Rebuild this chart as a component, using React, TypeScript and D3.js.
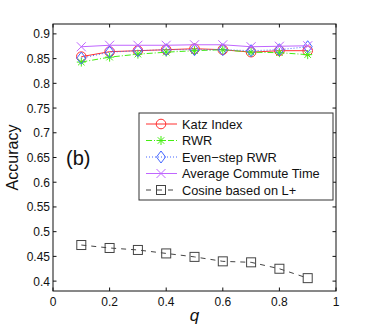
import React from "react";
import * as d3 from "d3";

const qValues = [0.1, 0.2, 0.3, 0.4, 0.5, 0.6, 0.7, 0.8, 0.9];
const katz = [0.854, 0.864, 0.866, 0.868, 0.870, 0.868, 0.863, 0.866, 0.866];
const rwr = [0.843, 0.853, 0.859, 0.863, 0.866, 0.868, 0.863, 0.862, 0.858];
const evenRwr = [0.851, 0.863, 0.866, 0.868, 0.868, 0.868, 0.866, 0.868, 0.874];
const act = [0.874, 0.877, 0.877, 0.877, 0.878, 0.878, 0.874, 0.875, 0.876];
const cosine = [0.473, 0.467, 0.463, 0.456, 0.449, 0.440, 0.438, 0.425, 0.406];
const xTicks = [0, 0.2, 0.4, 0.6, 0.8, 1];
const yTicks = [0.4, 0.45, 0.5, 0.55, 0.6, 0.65, 0.7, 0.75, 0.8, 0.85, 0.9];
const seriesNames = ["Katz Index", "RWR", "Even\u2212step RWR", "Average Commute Time", "Cosine based on L+"];

type Marker = "circle" | "star" | "diamond" | "x" | "square";
const seriesStyles: { color: string; dash: string; marker: Marker }[] = [
  { color: "#ff3030", dash: "", marker: "circle" },
  { color: "#44ee11", dash: "6,2,1,2", marker: "star" },
  { color: "#4466ff", dash: "1,2", marker: "diamond" },
  { color: "#c066ff", dash: "", marker: "x" },
  { color: "#444444", dash: "5,5", marker: "square" },
];

const W = 371, H = 329;
const left = 53, right = 336, top = 24, bottom = 291;

const x = d3.scaleLinear().domain([0, 1]).range([left, right]);
const y = d3.scaleLinear().domain([0.38, 0.92]).range([bottom, top]);

function MarkerShape({ type, cx, cy, color }: { type: Marker; cx: number; cy: number; color: string }) {
  const sw = 1;
  switch (type) {
    case "circle":
      return <circle cx={cx} cy={cy} r={4.8} fill="none" stroke={color} strokeWidth={sw} />;
    case "diamond":
      return (
        <path d={`M${cx},${cy - 6}L${cx + 4.5},${cy}L${cx},${cy + 6}L${cx - 4.5},${cy}Z`} fill="none" stroke={color} strokeWidth={sw} />
      );
    case "star": {
      const r = 4.5;
      const d = r * 0.72;
      return (
        <path
          d={`M${cx - r},${cy}L${cx + r},${cy}M${cx},${cy - r}L${cx},${cy + r}M${cx - d},${cy - d}L${cx + d},${cy + d}M${cx - d},${cy + d}L${cx + d},${cy - d}`}
          stroke={color}
          strokeWidth={sw}
          fill="none"
        />
      );
    }
    case "x": {
      const r = 4.5;
      return (
        <path d={`M${cx - r},${cy - r}L${cx + r},${cy + r}M${cx - r},${cy + r}L${cx + r},${cy - r}`} stroke={color} strokeWidth={sw} fill="none" />
      );
    }
    case "square":
      return <rect x={cx - 4.5} y={cy - 4.5} width={9} height={9} fill="none" stroke={color} strokeWidth={sw} />;
  }
}

export default function App() {
  const allSeries = [katz, rwr, evenRwr, act, cosine];
  const line = d3
    .line<number>()
    .x((_, i) => x(qValues[i]))
    .y((d) => y(d));
  const font = "'Liberation Sans', Arial, sans-serif";
  const tickLen = 3.5;

  const legX = 139, legY = 113, legW = 194, legH = 87;

  return (
    <svg width={W} height={H} style={{ position: "absolute", left: 0, top: 0 }} fontFamily={font}>
      <rect x={0} y={0} width={W} height={H} fill="#fff" />
      {allSeries.map((vals, si) => {
        const st = seriesStyles[si];
        return (
          <g key={si}>
            <path d={line(vals) || ""} fill="none" stroke={st.color} strokeWidth={1} strokeDasharray={st.dash || undefined} />
            {vals.map((v, i) => (
              <MarkerShape key={i} type={st.marker} cx={x(qValues[i])} cy={y(v)} color={st.color} />
            ))}
          </g>
        );
      })}
      <rect x={left} y={top} width={right - left} height={bottom - top} fill="none" stroke="#111" strokeWidth={1} />
      {xTicks.map((t) => (
        <g key={"x" + t}>
          <line x1={x(t)} x2={x(t)} y1={bottom} y2={bottom - tickLen} stroke="#111" />
          <line x1={x(t)} x2={x(t)} y1={top} y2={top + tickLen} stroke="#111" />
          <text x={x(t)} y={bottom + 15} fontSize={12} textAnchor="middle" fill="#111">
            {t}
          </text>
        </g>
      ))}
      {yTicks.map((t) => (
        <g key={"y" + t}>
          <line x1={left} x2={left + tickLen} y1={y(t)} y2={y(t)} stroke="#111" />
          <line x1={right} x2={right - tickLen} y1={y(t)} y2={y(t)} stroke="#111" />
          <text x={left - 3} y={y(t) + 4.5} fontSize={12} textAnchor="end" fill="#111">
            {t}
          </text>
        </g>
      ))}
      <text x={(left + right) / 2} y={321} fontSize={17} fontStyle="italic" textAnchor="middle" fill="#111">
        q
      </text>
      <text transform={`translate(17.5,${(top + bottom) / 2}) rotate(-90)`} fontSize={16} textAnchor="middle" fill="#111">
        Accuracy
      </text>
      <text x={66} y={165} fontSize={20} fill="#111">
        (b)
      </text>
      <rect x={legX} y={legY} width={legW} height={legH} fill="#fff" stroke="#333" strokeWidth={1} />
      {seriesNames.map((name, i) => {
        const st = seriesStyles[i];
        const cy = 124 + i * 16.5;
        return (
          <g key={name}>
            <line x1={146} x2={177} y1={cy} y2={cy} stroke={st.color} strokeWidth={1} strokeDasharray={i === 4 ? "5,6" : st.dash || undefined} />
            <MarkerShape type={st.marker} cx={161} cy={cy} color={st.color} />
            <text x={182} y={cy + 4.5} fontSize={12.8} fill="#111">
              {name}
            </text>
          </g>
        );
      })}
    </svg>
  );
}
